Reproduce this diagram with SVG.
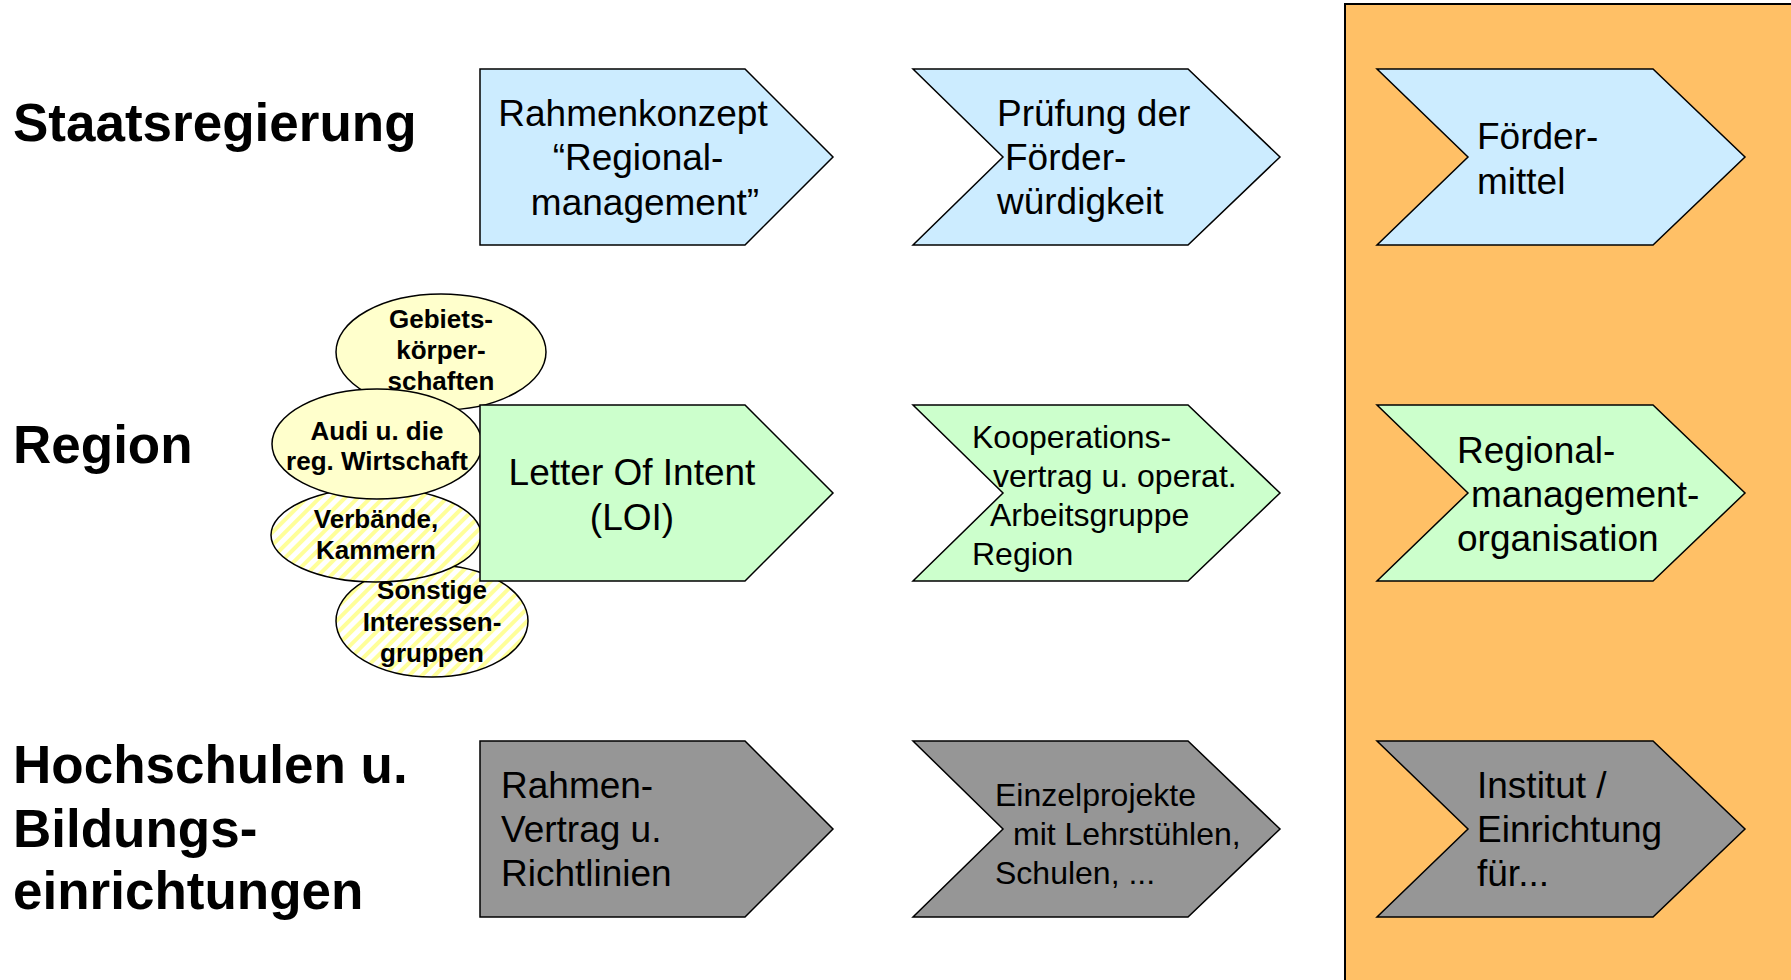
<svg xmlns="http://www.w3.org/2000/svg" width="1791" height="980" viewBox="0 0 1791 980">
<defs>
<pattern id="hatch" patternUnits="userSpaceOnUse" width="9" height="9" patternTransform="rotate(45)">
<rect width="9" height="9" fill="#FFFFFF"/>
<rect width="4" height="9" fill="#FFFF99"/>
</pattern>
</defs>
<style>
.lbl{font-family:"Liberation Sans",Arial,sans-serif;font-weight:bold;font-size:53px;fill:#000}
.t{font-family:"Liberation Sans",Arial,sans-serif;font-size:37px;fill:#000}
.ts{font-family:"Liberation Sans",Arial,sans-serif;font-size:32px;fill:#000}
.te{font-family:"Liberation Sans",Arial,sans-serif;font-weight:bold;font-size:26px;fill:#000;text-anchor:middle}
.mid{text-anchor:middle}
.shape{stroke:#000;stroke-width:1.5;stroke-linejoin:miter}
.blue{fill:#CCECFF}
.green{fill:#CCFFCC}
.gray{fill:#969696}
.ell{stroke:#000;stroke-width:1.5}
.solid{fill:#FFFFCC}
.hatched{fill:url(#hatch)}
</style>
<rect width="1791" height="980" fill="#FFFFFF"/>
<g id="panel">
<rect x="1345" y="4" width="500" height="1000" fill="#FFC066" stroke="#000" stroke-width="2"/>
</g>
<g id="labels">
<text class="lbl" x="13" y="141">Staatsregierung</text>
<text class="lbl" x="13" y="463">Region</text>
<text class="lbl" x="13" y="783">Hochschulen u.</text>
<text class="lbl" x="13" y="847">Bildungs-</text>
<text class="lbl" x="13" y="909">einrichtungen</text>
</g>
<g id="connectors"/>
<g id="n-rahmenkonzept">
<polygon class="shape blue" points="480,69 745,69 833,157 745,245 480,245"/>
<text class="t mid" x="633" y="126">Rahmenkonzept</text>
<text class="t mid" x="638" y="170">“Regional-</text>
<text class="t mid" x="645" y="215">management”</text>
</g>
<g id="n-pruefung">
<polygon class="shape blue" points="913,69 1188,69 1280,157 1188,245 913,245 1003,157"/>
<text class="t" x="997" y="126">Prüfung der</text>
<text class="t" x="1005" y="170">Förder-</text>
<text class="t" x="997" y="214">würdigkeit</text>
</g>
<g id="n-foerdermittel">
<polygon class="shape blue" points="1377,69 1653,69 1745,157 1653,245 1377,245 1468,157"/>
<text class="t" x="1477" y="149">Förder-</text>
<text class="t" x="1477" y="194">mittel</text>
</g>
<g id="n-gebiets">
<ellipse class="ell solid" cx="441" cy="352" rx="105" ry="58"/>
<text class="te" x="441" y="328">Gebiets-</text>
<text class="te" x="441" y="359">körper-</text>
<text class="te" x="441" y="390">schaften</text>
</g>
<g id="n-sonstige">
<ellipse class="ell hatched" cx="432" cy="621" rx="96" ry="56"/>
<text class="te" x="432" y="599">Sonstige</text>
<text class="te" x="432" y="631">Interessen-</text>
<text class="te" x="432" y="662">gruppen</text>
</g>
<g id="n-verbaende">
<ellipse class="ell hatched" cx="376" cy="535" rx="105" ry="47"/>
<text class="te" x="376" y="528">Verbände,</text>
<text class="te" x="376" y="559">Kammern</text>
</g>
<g id="n-audi">
<ellipse class="ell solid" cx="377" cy="444" rx="105" ry="55"/>
<text class="te" x="377" y="440">Audi u. die</text>
<text class="te" x="377" y="470">reg. Wirtschaft</text>
</g>
<g id="n-loi">
<polygon class="shape green" points="480,405 745,405 833,493 745,581 480,581"/>
<text class="t mid" x="632" y="485">Letter Of Intent</text>
<text class="t mid" x="632" y="530">(LOI)</text>
</g>
<g id="n-kooperation">
<polygon class="shape green" points="913,405 1188,405 1280,493 1188,581 913,581 1003,493"/>
<text class="ts" x="972" y="448">Kooperations-</text>
<text class="ts" x="993" y="487">vertrag u. operat.</text>
<text class="ts" x="990" y="526">Arbeitsgruppe</text>
<text class="ts" x="972" y="565">Region</text>
</g>
<g id="n-regionalmanagement">
<polygon class="shape green" points="1377,405 1653,405 1745,493 1653,581 1377,581 1468,493"/>
<text class="t" x="1457" y="463">Regional-</text>
<text class="t" x="1471" y="507">management-</text>
<text class="t" x="1457" y="551">organisation</text>
</g>
<g id="n-rahmenvertrag">
<polygon class="shape gray" points="480,741 745,741 833,829 745,917 480,917"/>
<text class="t" x="501" y="798">Rahmen-</text>
<text class="t" x="501" y="842">Vertrag u.</text>
<text class="t" x="501" y="886">Richtlinien</text>
</g>
<g id="n-einzelprojekte">
<polygon class="shape gray" points="913,741 1188,741 1280,829 1188,917 913,917 1003,829"/>
<text class="ts" x="995" y="806">Einzelprojekte</text>
<text class="ts" x="1013" y="845">mit Lehrstühlen,</text>
<text class="ts" x="995" y="884">Schulen, ...</text>
</g>
<g id="n-institut">
<polygon class="shape gray" points="1377,741 1653,741 1745,829 1653,917 1377,917 1468,829"/>
<text class="t" x="1477" y="798">Institut /</text>
<text class="t" x="1477" y="842">Einrichtung</text>
<text class="t" x="1477" y="886">für...</text>
</g>
</svg>
